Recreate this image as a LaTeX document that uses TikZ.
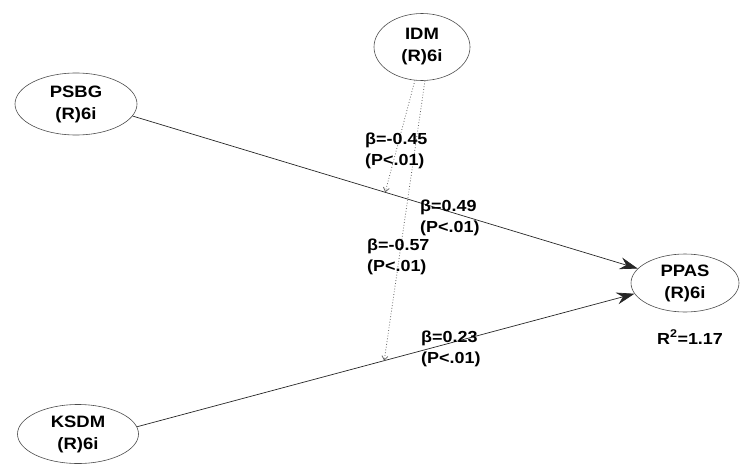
\documentclass[tikz,border=0pt]{standalone}
\usepackage{fontspec}
\setmainfont{Liberation Sans}[FakeStretch=1.12]
\usetikzlibrary{arrows.meta,shapes.geometric}
\begin{document}
\begin{tikzpicture}[x=1pt,y=-1pt,
  lv/.style={draw=black!70,line width=0.6pt,ellipse,inner sep=0pt,align=center,
    font=\fontsize{16.5}{22}\selectfont\bfseries},
  lbl/.style={align=left,anchor=west,inner sep=0pt,font=\fontsize{16}{21}\selectfont\bfseries},
  path/.style={draw=black!85,line width=0.7pt,-{Stealth[length=18pt,width=12pt,inset=6pt]}},
  mod/.style={draw=black!60,line width=0.8pt,dotted,-{Straight Barb[length=4pt,width=6pt]}}]
\useasboundingbox (0,0) rectangle (741,466);
\node[lv,minimum width=96pt,minimum height=67pt] (idm) at (422,47) {IDM\\(R)6i};
\node[lv,minimum width=122pt,minimum height=62pt] (psbg) at (76,104) {PSBG\\(R)6i};
\node[lv,minimum width=108pt,minimum height=58pt] (ppas) at (685,283) {PPAS\\(R)6i};
\node[lv,minimum width=121pt,minimum height=59pt] (ksdm) at (78,434) {KSDM\\(R)6i};
\node[lbl,anchor=center] (r2) at (690,337) {R\textsuperscript{2}=1.17};
\draw[path] (psbg.-12) -- (ppas.163) coordinate[pos=0.5] (m1);
\draw[path] (ksdm.7) -- (ppas.192) coordinate[pos=0.497] (m2);
\draw[mod] (idm.258) -- (m1);
\draw[mod] (idm.275) -- (m2);
\node[lbl] (l1) at (365,151) {β=-0.45\\(P<.01)};
\node[lbl] (l2) at (420,218) {β=0.49\\(P<.01)};
\node[lbl] (l3) at (367,257) {β=-0.57\\(P<.01)};
\node[lbl] (l4) at (421,349) {β=0.23\\(P<.01)};
\end{tikzpicture}
\end{document}
